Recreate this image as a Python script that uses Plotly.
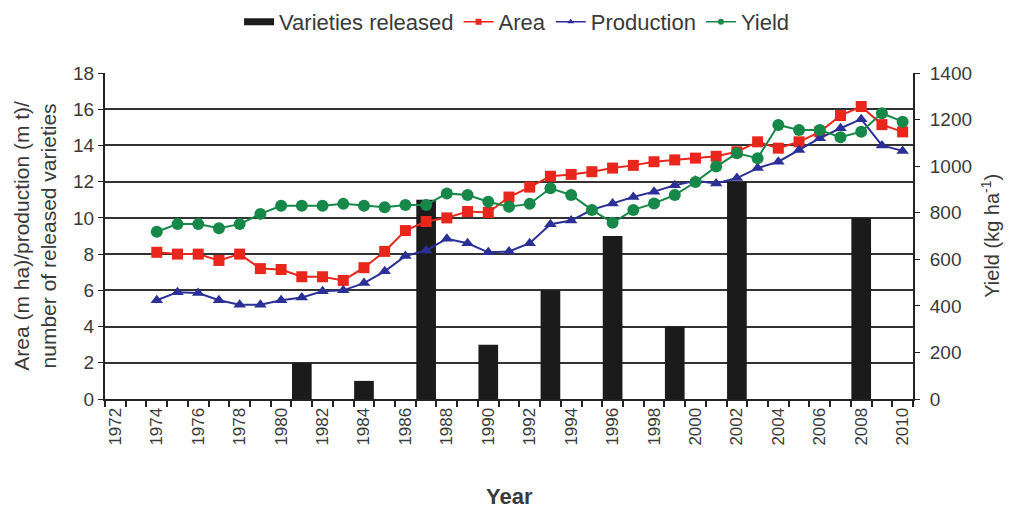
import plotly.graph_objects as go

years = list(range(1974, 2011))

area = [8.1, 8.0, 8.0, 7.65, 8.0, 7.2, 7.15, 6.75, 6.75, 6.55, 7.25, 8.15, 9.3,
        9.8, 10.0, 10.35, 10.3, 11.15, 11.7, 12.3, 12.4, 12.55, 12.75, 12.9, 13.1,
        13.2, 13.3, 13.4, 13.65, 14.2, 13.85, 14.2, 14.75, 15.65, 16.15, 15.15, 14.75]

production = [5.45, 5.9, 5.85, 5.45, 5.2, 5.2, 5.45, 5.6, 5.95, 6.0, 6.4, 7.05, 7.9,
              8.2, 8.85, 8.6, 8.1, 8.15, 8.6, 9.65, 9.85, 10.45, 10.8, 11.15, 11.45,
              11.8, 12.05, 11.9, 12.2, 12.75, 13.1, 13.75, 14.4, 14.95, 15.45, 14.0, 13.7]

yield_kg = [718, 751, 751, 733, 751, 795, 830, 830, 830, 838, 830, 823, 833,
            833, 883, 876, 847, 826, 838, 905, 876, 812, 757, 812, 840,
            876, 932, 998, 1055, 1034, 1177, 1155, 1155, 1124, 1148, 1227, 1191]

var_years = [1981, 1984, 1987, 1990, 1993, 1996, 1999, 2002, 2008]
var_counts = [2, 1, 11, 3, 6, 9, 4, 12, 10]

x_labels = [str(y) for y in range(1972, 2011, 2)]
x_label_vals = list(range(1972, 2011, 2))

FONT = "Liberation Sans, Arial, sans-serif"
TXT = "#3a3a3a"
RED = "#e8261c"
BLUE = "#2b2f96"
GREEN = "#16884a"
BARC = "#1b1b1b"

fig = go.Figure()
fig.add_trace(go.Bar(x=var_years, y=var_counts, name="Varieties released",
                     marker=dict(color=BARC, line=dict(width=0)), width=0.95,
                     showlegend=False))
fig.add_trace(go.Scatter(x=years, y=area, name="Area", mode="lines+markers",
                         line=dict(color=RED, width=2), showlegend=False,
                         marker=dict(symbol="square", size=11, color=RED)))
fig.add_trace(go.Scatter(x=years, y=production, name="Production", mode="lines+markers",
                         line=dict(color=BLUE, width=2), showlegend=False,
                         marker=dict(symbol="triangle-up", size=11, color=BLUE)))
fig.add_trace(go.Scatter(x=years, y=yield_kg, name="Yield", mode="lines+markers",
                         yaxis="y2", line=dict(color=GREEN, width=2), showlegend=False,
                         marker=dict(symbol="circle", size=12, color=GREEN)))

# legend entries styled like the reference key
fig.add_trace(go.Scatter(x=[None], y=[None], name="Varieties released", mode="lines",
                         line=dict(color=BARC, width=7)))
for nm, col, sym in [("Area", RED, "square"), ("Production", BLUE, "triangle-up"),
                     ("Yield", GREEN, "circle")]:
    fig.add_trace(go.Scatter(x=[None], y=[None], name=nm, mode="lines+markers",
                             line=dict(color=col, width=1.5),
                             marker=dict(symbol=sym, size=6, color=col)))

fig.update_layout(
    width=1010, height=511,
    margin=dict(l=105, r=97, t=73, b=112, autoexpand=False),
    paper_bgcolor="white", plot_bgcolor="white",
    font=dict(family=FONT, size=17, color=TXT),
    showlegend=True,
    legend=dict(orientation="h", x=0.51, xanchor="center",
                yref="container", y=0.957, yanchor="middle",
                font=dict(size=22, color=TXT), tracegroupgap=0),
    bargap=0.05,
    xaxis=dict(range=[1971.5, 2010.5], tickmode="array", tickvals=x_label_vals,
               ticktext=x_labels, tickangle=-90, ticks="outside", ticklen=0,
               showline=True, linecolor="#222222", linewidth=2, showgrid=False,
               zeroline=False, tickfont=dict(size=17),
               minor=dict(ticks="outside", tick0=1971.5, dtick=1, ticklen=6,
                          tickcolor="#222222", tickwidth=1.5, showgrid=False)),
    yaxis=dict(range=[0, 18], dtick=2, showgrid=True, gridcolor="#333333", gridwidth=2,
               showline=True, linecolor="#222222", linewidth=2, ticks="outside",
               ticklen=5, tickcolor="#222222", zeroline=False,
               tickfont=dict(size=19)),
    yaxis2=dict(range=[0, 1400], dtick=200, overlaying="y", side="right",
                showgrid=False, showline=True, linecolor="#222222", linewidth=2,
                ticks="outside", ticklen=5, tickcolor="#222222", zeroline=False,
                ticklabelstandoff=6, tickfont=dict(size=19)),
)

fig.add_annotation(text="Area (m ha)/production (m t)/<br>number of released varieties",
                   xref="paper", yref="paper", x=-0.087, y=0.5, xanchor="center",
                   yanchor="middle", textangle=-90, showarrow=False,
                   font=dict(size=21, color=TXT))
fig.add_annotation(text="Yield (kg ha<sup>-1</sup>)",
                   xref="paper", yref="paper", x=1.095, y=0.5, xanchor="center",
                   yanchor="middle", textangle=-90, showarrow=False,
                   font=dict(size=20, color=TXT))
fig.add_annotation(text="<b>Year</b>", xref="paper", yref="paper", x=0.5, y=-0.30,
                   xanchor="center", yanchor="middle", showarrow=False,
                   font=dict(size=22, color=TXT))

fig.write_html("out.html", config={"displayModeBar": False},
               post_script="document.body.style.margin='0';document.body.style.overflow='hidden';")
